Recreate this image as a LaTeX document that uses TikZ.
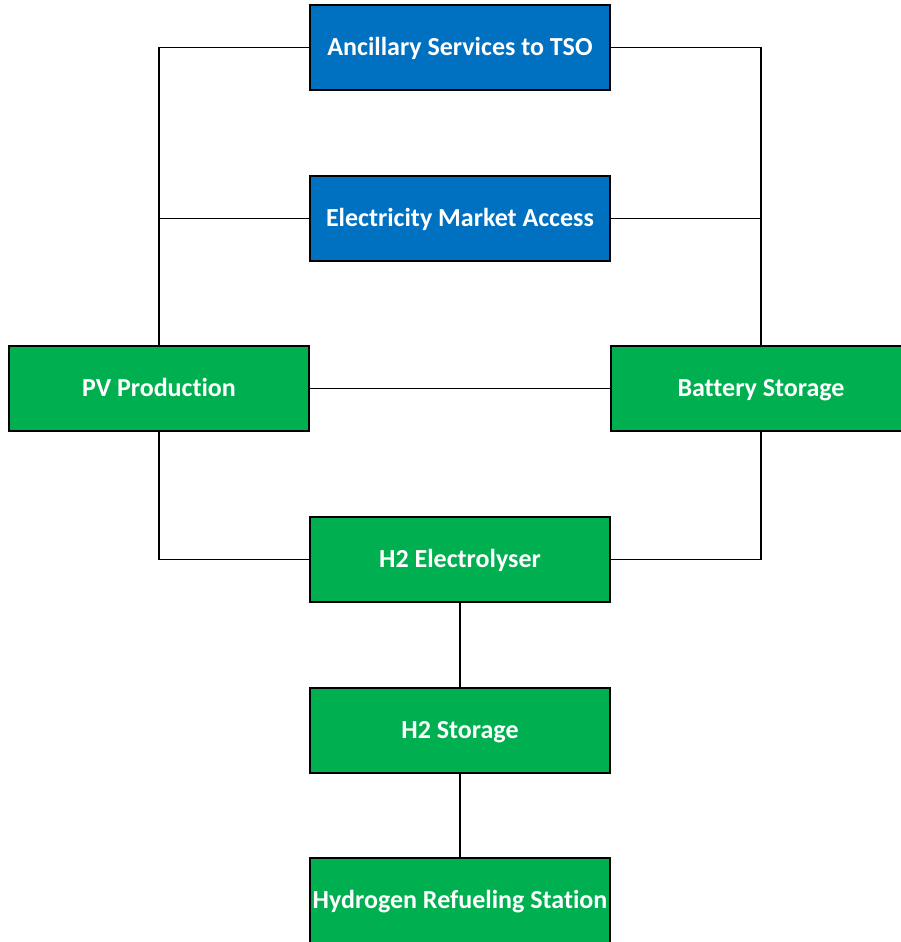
\documentclass[tikz,border=0pt]{standalone}
\usepackage{fontspec}
\setmainfont{Carlito}[Ligatures=NoCommon]
\usetikzlibrary{positioning}
\definecolor{tsoblue}{RGB}{0,112,192}
\definecolor{plantgreen}{RGB}{0,176,80}
\tikzset{
	unit/.style={draw=black, line width=1.1pt, minimum width=6cm, minimum height=1.7cm, inner sep=0pt, text height=1em, text depth=0.14em, text=white, font=\fontsize{14.8}{18}\selectfont\bfseries},
	market/.style={unit, fill=tsoblue},
	plant/.style={unit, fill=plantgreen},
	link/.style={line width=0.95pt}
}
\begin{document}
\begin{tikzpicture}
		\useasboundingbox (0,0) rectangle (18.02,-18.84);
		% markets
		\node[market] (anc) at (9.2,-0.95) {Ancillary Services to TSO};
		\node[market] (elec) at (9.2,-4.37) {Electricity Market Access};
		% plant
		\node[plant] (pv) at (3.18,-7.77) {PV Production};
		\node[plant] (bat) at (15.22,-7.77) {Battery Storage};
		\node[plant] (ely) at (9.2,-11.19) {H2 Electrolyser};
		\node[plant] (h2s) at (9.2,-14.61) {H2 Storage};
		\node[plant] (hrs) at (9.2,-18.01) {Hydrogen Refueling Station};
		
		%% links
		\draw[link] (anc.west) -| (pv.north);
		\draw[link] (elec.west) -- (elec.west -| pv.north);
		\draw[link] (anc.east) -| (bat.north);
		\draw[link] (elec.east) -- (elec.east -| bat.north);
		\draw[link] (pv) -- (bat);
		\draw[link] (pv.south) |- (ely.west);
		\draw[link] (bat.south) |- (ely.east);
		\draw[link] (ely) -- (h2s);
		\draw[link] (h2s) -- (hrs);
\end{tikzpicture}
\end{document}
